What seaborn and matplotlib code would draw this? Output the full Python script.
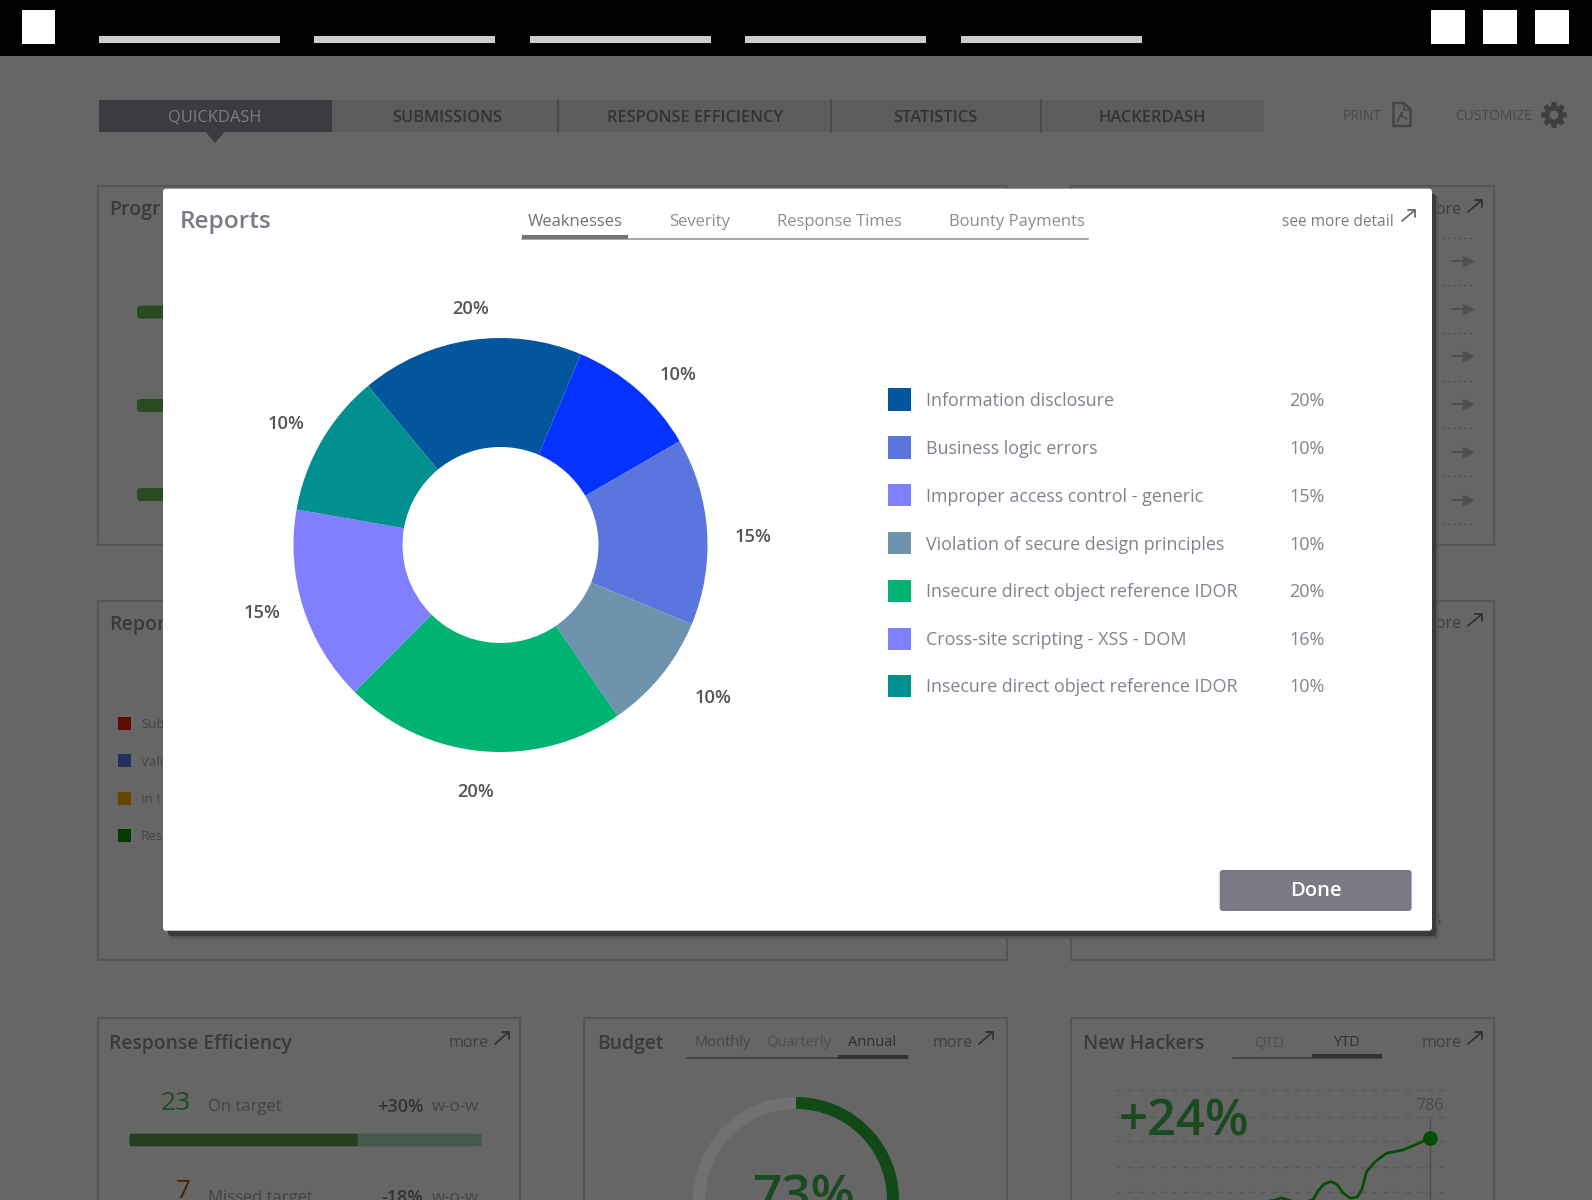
import numpy as np
import matplotlib
matplotlib.use('Agg')
import matplotlib.pyplot as plt
from matplotlib.patches import Rectangle, FancyBboxPatch, Wedge, Polygon
import seaborn as sns

sns.set_theme(style='white')
plt.rcParams['font.family'] = ['Open Sans', 'DejaVu Sans']

# donut
slice_shares = [17.4, 10.3, 14.6, 9.2, 22.0, 15.3, 11.2]
slice_labels = ['20%', '10%', '15%', '10%', '20%', '15%', '10%']
slice_colors = ['#02569b', '#0433ff', '#5b75de', '#6f93ad', '#00b373', '#8080ff', '#008f8f']

# legend of the modal
legend_names = ['Information disclosure', 'Business logic errors', 'Improper access control - generic',
                'Violation of secure design principles', 'Insecure direct object reference IDOR',
                'Cross-site scripting - XSS - DOM', 'Insecure direct object reference IDOR']
legend_values = ['20%', '10%', '15%', '10%', '20%', '16%', '10%']
legend_colors = ['#02569b', '#5b75de', '#8080ff', '#6f93ad', '#00b373', '#8080ff', '#008f8f']

# new hackers line behind the modal
hacker_week = [30.5, 31.9, 33.2, 34.5, 36.0, 38.0, 39.5, 40.5, 41.7, 43.1, 44.3, 45.5, 46.9, 48.3, 49.3,
               50.2, 51.9, 54.2, 57.5, 60.3, 62.9]
hacker_count = [470, 476, 487, 476, 466, 468, 476, 522, 556, 568, 554, 512, 485, 490, 530,
                617, 667, 710, 726, 756, 786]

nav_tabs = ['QUICKDASH', 'SUBMISSIONS', 'RESPONSE EFFICIENCY', 'STATISTICS', 'HACKERDASH']
modal_tabs = ['Weaknesses', 'Severity', 'Response Times', 'Bounty Payments']

BG = '#666666'
DARK = '#3a3a3a'
LINE = '#555555'
MODAL_TXT = '#83818e'

fig = plt.figure(figsize=(15.92, 12), dpi=100, facecolor=BG)
ax = fig.add_axes([0, 0, 1, 1], zorder=0)
ax.set_xlim(0, 1592)
ax.set_ylim(1200, 0)
ax.axis('off')


def box(x0, y0, x1, y1, color, z=1):
    ax.add_patch(Rectangle((x0, y0), x1 - x0, y1 - y0, fc=color, ec='none', zorder=z))


def card(x0, y0, x1, y1):
    ax.add_patch(Rectangle((x0, y0), x1 - x0, y1 - y0, fc='none', ec=LINE, lw=1.5, zorder=1))


def label(x, y, s, size=12, color=DARK, ha='center', weight='normal', va='center', z=2):
    # open sans sits a bit high when centred
    if va == 'center':
        y = y + 2
    ax.text(x, y, s, fontsize=size, color=color, ha=ha, va=va, fontweight=weight, zorder=z)


def corner_arrow(x0, y1, x1, y0, color='#333333', z=2):
    ax.plot([x0, x1], [y1, y0], color=color, lw=1.3, zorder=z)
    ax.plot([x1 - 7, x1, x1], [y0, y0, y0 + 7], color=color, lw=1.3, zorder=z)


# top bar
box(0, 0, 1592, 56, '#000000')
box(21.5, 10, 55, 43.5, '#ffffff', 2)
for x0, x1 in [(98.5, 279.6), (313.8, 495), (530, 711), (745, 926), (961, 1142)]:
    box(x0, 35.7, x1, 43.3, '#cccccc', 2)
for x0 in [1431, 1483, 1535]:
    box(x0, 10, x0 + 33.5, 43.5, '#ffffff', 2)

# nav tabs
box(332, 100, 1264, 131.7, '#5c5c5c')
box(98.5, 100, 332, 131.7, '#3c3b42')
ax.add_patch(Polygon([(205.6, 131.7), (225, 131.7), (215, 143)], fc='#3c3b42', ec='none', zorder=1))
for x in [558, 831, 1041]:
    ax.plot([x, x], [100, 131.7], color='#4a4a4a', lw=1.5, zorder=2)
nav_x = [215, 447, 695, 935, 1152.5]
for i, (x, s) in enumerate(zip(nav_x, nav_tabs)):
    label(x, 116, s, size=11.9, color='#7d7d7d' if i == 0 else '#333333', weight='normal' if i == 0 else 'semibold')

# print / customize
label(1362, 114.5, 'PRINT', size=10, color='#484848')
ax.add_patch(Polygon([(1393.5, 103), (1404, 103), (1410.5, 109.5), (1410.5, 126), (1393.5, 126)],
                     fc='none', ec='#454545', lw=1.8, joinstyle='round', zorder=2))
ax.plot([1404, 1404, 1410], [103, 109.5, 109.5], color='#454545', lw=1.2, zorder=2)
ax.plot([1397, 1402, 1401, 1407], [122, 112, 116, 119], color='#454545', lw=1.1, zorder=2)
label(1494, 114.5, 'CUSTOMIZE', size=10, color='#484848')
gear_t = np.linspace(0, 2 * np.pi, 65)
gear_r = 13 - 3.5 * (np.cos(gear_t * 8) < -0.2)
ax.add_patch(Polygon(np.c_[1554 + gear_r * np.cos(gear_t), 115 + gear_r * np.sin(gear_t)], fc='#3f3f3f', ec='none', zorder=2))
ax.add_patch(plt.Circle((1554, 115), 4.5, fc=BG, ec='none', zorder=3))

# cards behind the modal
card(98, 186, 1007, 545)
card(1071, 186, 1493.5, 545)
card(98, 601, 1007, 960)
card(1071, 601, 1493.5, 960)
card(98, 1017.7, 520, 1230)
card(584, 1017.7, 1006.6, 1230)
card(1071, 1017.7, 1493.5, 1230)

label(109, 208, 'Progr', size=14, ha='left', weight='semibold')
label(109, 623, 'Repor', size=14, ha='left', weight='semibold')
for y in [305.6, 399, 488]:
    ax.add_patch(FancyBboxPatch((137, y), 30, 13, boxstyle='round,pad=0,rounding_size=4', fc='#2a4a22', ec='none', zorder=1))
for y, c, s in zip([716.7, 754, 791.7, 829], ['#5f0a02', '#22305f', '#664500', '#023a02'], ['Sub', 'Vali', 'In t', 'Res']):
    box(117.5, y, 130.5, y + 13.3, c, 2)
    label(141, y + 6, s, size=9.5, color='#454545', ha='left')

for y in [237.5, 285, 333, 381, 428, 476, 524]:
    ax.plot([1425, 1473], [y, y], color='#4d4d4d', lw=1, ls=(0, (1.5, 2.5)), zorder=1)
for y in [261, 309, 356, 404, 451.5, 499.5]:
    ax.plot([1451.5, 1466], [y, y], color='#505050', lw=1.5, zorder=1)
    ax.plot([1468], [y], marker='>', ms=7, color='#505050', zorder=1)
for y in [208, 622]:
    label(1461.6, y, 'more', size=11.5, color='#3f3f3f', ha='right')
    corner_arrow(1467.7, y + 4, 1482, y - 8)
label(1440, 918, 's', size=11, color='#3f3f3f', ha='right')

# response efficiency card
label(109, 1042, 'Response Efficiency', size=13.9, ha='left', weight='semibold')
label(469, 1041, 'more', size=11.5, color='#3f3f3f')
corner_arrow(495, 1044, 508.7, 1032)
label(176, 1102, '23', size=19, color='#1f4a25')
label(207.6, 1105, 'On target', size=12, color='#444444', ha='left')
label(423.5, 1105, '+30%', size=13, color='#333333', ha='right', weight='semibold')
label(479, 1105, 'w-o-w', size=12.2, color='#444444', ha='right')
ax.add_patch(FancyBboxPatch((129.6, 1133.7), 352.4, 12.6, boxstyle='round,pad=0,rounding_size=3', fc='#465a50', ec='none', zorder=1))
ax.add_patch(FancyBboxPatch((129.6, 1133.7), 228, 12.6, boxstyle='round,pad=0,rounding_size=2', fc='#283f1f', ec='none', zorder=2))
label(183.7, 1190, '7', size=19, color='#4f2003')
label(207.6, 1196, 'Missed target', size=12, color='#444444', ha='left')
label(423.5, 1196, '-18%', size=13, color='#333333', ha='right', weight='semibold')
label(479, 1196, 'w-o-w', size=12.2, color='#444444', ha='right')

# budget card
label(597, 1042, 'Budget', size=13.9, ha='left', weight='semibold')
label(722.4, 1041, 'Monthly', size=10.5, color='#454545')
label(799, 1041, 'Quarterly', size=10.5, color='#505050')
label(872, 1041, 'Annual', size=10.5, color='#2f2f2f')
ax.plot([686.7, 908], [1058, 1058], color='#454545', lw=1.5, zorder=2)
box(838, 1054.7, 908, 1058.7, '#333333', 2)
label(953, 1041, 'more', size=11.5, color='#3f3f3f')
corner_arrow(979, 1044, 992.6, 1032)
ax.add_patch(Wedge((796, 1200), 103, 172.8, 270, width=12, fc='#717171', ec='none', zorder=1))
ax.add_patch(Wedge((796, 1200), 103, -90, 172.8, width=12, fc='#124a17', ec='none', zorder=2))
label(804, 1212, '73%', size=37, color='#1a4a20', va='baseline', weight='semibold')

# new hackers card
label(1083, 1042, 'New Hackers', size=13.9, ha='left', weight='semibold')
label(1269, 1041, 'QTD', size=10.5, color='#505050')
label(1347.5, 1041, 'YTD', size=10.5, color='#2f2f2f')
ax.plot([1233, 1382], [1057.7, 1057.7], color='#454545', lw=1.5, zorder=2)
box(1312, 1054.2, 1382, 1058.2, '#333333', 2)
label(1442, 1041, 'more', size=11.5, color='#3f3f3f')
corner_arrow(1467.7, 1044, 1482, 1032)
for y in [1090, 1117, 1141, 1167, 1192]:
    ax.plot([1115.6, 1444], [y, y], color='#585858', lw=1, ls=(0, (4, 4)), zorder=1)
label(1119, 1135, '+24%', size=36.5, color='#1a4a20', ha='left', va='baseline', weight='semibold')
label(1430, 1104, '786', size=11.5, color='#484848')
ax.plot([1430, 1430], [1117, 1200], color='#4d4d4d', lw=1, zorder=1)

# sparkline uses weeks and hacker counts, 5 px per unit both ways
spark = fig.add_axes([1115.6 / 1592, 0, (1444 - 1115.6) / 1592, 110 / 1200], zorder=1)
spark.patch.set_alpha(0)
sns.lineplot(x=hacker_week, y=hacker_count, ax=spark, color='#024f02', lw=1.9, errorbar=None)
sns.scatterplot(x=hacker_week[-1:], y=hacker_count[-1:], ax=spark, color='#024f02', s=112, linewidth=0, zorder=3)
spark.set_xlim(0, 65.7)
spark.set_ylim(476, 1026)
spark.axis('off')

# modal
ax.add_patch(FancyBboxPatch((170, 196), 1268.5, 742.5, boxstyle='round,pad=0,rounding_size=3', fc='#555555', ec='none', zorder=8))
ax.add_patch(FancyBboxPatch((168, 194), 1268, 742, boxstyle='round,pad=0,rounding_size=3', fc='#3a3a3a', ec='none', zorder=9))
ax.add_patch(FancyBboxPatch((163, 188.7), 1269, 742, boxstyle='round,pad=0,rounding_size=3', fc='#ffffff', ec='none', zorder=10))
label(180, 220, 'Reports', size=17.6, color='#7b7986', ha='left', weight='semibold', z=11)
tab_x = [575, 699.5, 839.6, 1017]
for i, (x, s) in enumerate(zip(tab_x, modal_tabs)):
    label(x, 219.5, s, size=12, color='#6f6f6f' if i == 0 else '#8d8d8d', z=11)
ax.plot([522, 1088], [238.7, 238.7], color='#aaaaaa', lw=1.5, zorder=11)
box(522, 235, 628, 239, '#737373', 12)
label(1338, 219.5, 'see more detail', size=11.2, color='#7d7d7d', z=11)
corner_arrow(1402, 221, 1415, 210, color='#6a6a6a', z=11)

for y, name, val, c in zip([399.5, 447.5, 495, 543, 590.7, 638.7, 685.7], legend_names, legend_values, legend_colors):
    box(888, y - 11.2, 910.7, y + 11.2, c, 11)
    label(925.5, y - 0.5, name, size=12.9, color=MODAL_TXT, ha='left', z=11)
    label(1325, y - 0.5, val, size=13, color=MODAL_TXT, ha='right', z=11)

ax.add_patch(FancyBboxPatch((1219.7, 870), 191.9, 41, boxstyle='round,pad=0,rounding_size=3', fc='#7b7986', ec='none', zorder=11))
label(1315.5, 889.5, 'Done', size=14.5, color='#ffffff', weight='semibold', z=12)

# donut on its own axes, above the modal
R = 207
half = R * 1.25
pie_ax = fig.add_axes([(500.5 - half) / 1592, 1 - (545 + half) / 1200, 2 * half / 1592, 2 * half / 1200], zorder=2)
pie_ax.patch.set_alpha(0)
wedges, texts = pie_ax.pie(slice_shares, labels=slice_labels, colors=slice_colors, startangle=129.8,
                           counterclock=False, radius=1, labeldistance=1.19,
                           wedgeprops={'width': 109 / 207, 'edgecolor': 'none'},
                           textprops={'fontsize': 13.2, 'color': '#555555', 'fontweight': 'semibold'})
# the percent labels are not on one radius, small shifts in px (right, down)
label_shift = [(6, 7.5), (15, 15), (7, 8), (21, -2), (-3, 1.5), (-4, -7), (-1, 2)]
for t, (dx, dy) in zip(texts, label_shift):
    t.set_ha('center')
    t.set_va('center')
    px, py = t.get_position()
    t.set_position((px + dx * 1.0153 / R, py - dy * 1.0153 / R))
pie_ax.set_xlim(-1.25, 1.25)
pie_ax.set_ylim(-1.25, 1.25)

fig.savefig('out.png', dpi=100, facecolor=BG)
